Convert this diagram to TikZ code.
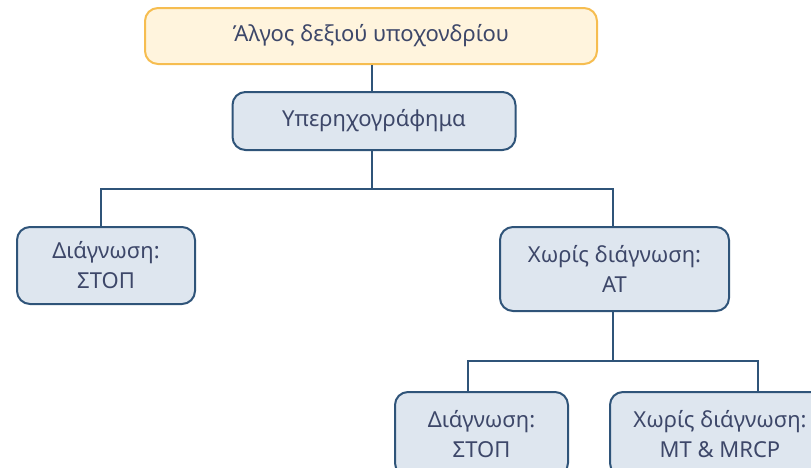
\documentclass[tikz,border=0pt]{standalone}
\usepackage{fontspec}
\setmainfont{Noto Sans}
\usepackage{tikz}

\definecolor{edgeblue}{HTML}{2F5479}
\definecolor{boxfill}{HTML}{DEE6EF}
\definecolor{topfill}{HTML}{FFF4DD}
\definecolor{topline}{HTML}{F6BD50}
\definecolor{txt}{HTML}{3D4769}

\tikzset{
  box/.style={draw=edgeblue, fill=boxfill, line width=2pt, rounded corners=13pt,
    align=center, text=txt, font=\fontsize{22}{30}\selectfont},
  topbox/.style={box, draw=topline, fill=topfill},
  link/.style={draw=edgeblue, line width=2pt}
}

\begin{document}
\begin{tikzpicture}[x=1pt, y=-1pt]
                \useasboundingbox (0,0) rectangle (811,467);
                \clip (0,0) rectangle (811,467);

                % Nodes
                \node[topbox, minimum width=452pt, minimum height=56pt] (pain) at (371,36) {Άλγος δεξιού υποχονδρίου};
                \node[box, minimum width=283pt, minimum height=58pt] (us) at (374,121) {Υπερηχογράφημα};
                \node[box, minimum width=178pt, minimum height=77pt] (diagA) at (106,265.5) {Διάγνωση:\\ΣΤΟΠ};
                \node[box, minimum width=229pt, minimum height=84pt] (nodiagA) at (614.5,269) {Χωρίς διάγνωση:\\AT};
                \node[box, minimum width=173pt, minimum height=84pt] (diagB) at (481.5,434) {Διάγνωση:\\ΣΤΟΠ};
                \node[box, minimum width=220pt, minimum height=84pt] (nodiagB) at (720,434) {Χωρίς διάγνωση:\\MT \& MRCP};

                % Junctions
                \coordinate (j1) at (372,189);
                \coordinate (j2) at (613,361);

                % Edges
                \draw[link] (pain.south -| j1) -- (us.north -| j1);
                \draw[link] (us.south -| j1) -- (j1);
                \draw[link] (j1) -| (diagA.north -| 101,0);
                \draw[link] (j1) -| (nodiagA.north -| j2);
                \draw[link] (nodiagA.south -| j2) -- (j2);
                \draw[link] (j2) -| (diagB.north -| 468,0);
                \draw[link] (j2) -| (nodiagB.north -| 758,0);
            \end{tikzpicture}
\end{document}
